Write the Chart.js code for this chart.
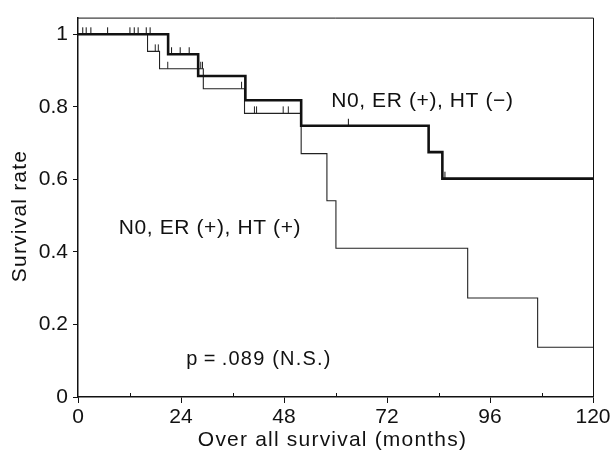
<!DOCTYPE html>
<html>
<head>
<meta charset="utf-8">
<script src="https://cdn.jsdelivr.net/npm/chart.js@4.4.1/dist/chart.umd.min.js"></script>
<style>
html,body{margin:0;padding:0;background:#fff;}
#wrap{width:614px;height:455px;}
</style>
</head>
<body>
<div id="wrap"><canvas id="c" width="614" height="455"></canvas></div>
<script>
// ---- data ----
const xTicks = [0, 24, 48, 72, 96, 120];
const xMinorTicks = [12, 36, 60, 84, 108];
const yTicks = [0, 0.2, 0.4, 0.6, 0.8, 1];

// N0, ER(+), HT(-)  (thick line)
const htNegTimes = [0, 21, 28, 39, 52, 81.7, 84.9, 120];
const htNegSurv  = [1, 0.945, 0.885, 0.818, 0.748, 0.675, 0.602, 0.602];
const htNegCensorTimes = [1.1, 1.9, 3.0, 6.9, 12.1, 13.1, 14.0, 15.9, 16.8, 21.8, 23.8, 25.9, 63.0, 85.5];
const htNegCensorSurv  = [1, 1, 1, 1, 1, 1, 1, 1, 1, 0.945, 0.945, 0.945, 0.748, 0.602];

// N0, ER(+), HT(+)  (thin line)
const htPosTimes = [0, 16.2, 19, 29.2, 38.8, 52, 58, 60.1, 90.8, 107.1, 120];
const htPosSurv  = [1, 0.953, 0.905, 0.85, 0.782, 0.671, 0.541, 0.41, 0.273, 0.137, 0.137];
const htPosCensorTimes = [18.0, 18.7, 20.9, 28.6, 29.0, 38.1, 41.1, 41.6, 47.8, 49.0];
const htPosCensorSurv  = [0.953, 0.953, 0.905, 0.905, 0.905, 0.85, 0.782, 0.782, 0.782, 0.782];

const labelNeg = 'N0, ER (+), HT (\u2212)';
const labelPos = 'N0, ER (+), HT (+)';
const pLabel = 'p\u2009=\u2009.089 (N.S.)';
const xTitle = 'Over all survival (months)';
const yTitle = 'Survival rate';

// ---- helpers ----
const toPts = (xs, ys) => xs.map((x, i) => ({x: x, y: ys[i]}));
function censorMark(color) {
  const c = document.createElement('canvas');
  c.width = 3; c.height = 16;
  const g = c.getContext('2d');
  g.strokeStyle = color; g.lineWidth = 1;
  g.beginPath(); g.moveTo(1.5, 1); g.lineTo(1.5, 8); g.stroke();
  return c;
}
const FONT = '"Liberation Sans", Arial, Helvetica, sans-serif';
const INK = '#111';

const decor = {
  id: 'decor',
  afterDatasetsDraw(chart) {
    const ctx = chart.ctx, a = chart.chartArea;
    const xs = chart.scales.x, ys = chart.scales.y;
    ctx.save();
    // frame
    ctx.strokeStyle = INK; ctx.lineWidth = 1;
    ctx.beginPath();
    ctx.moveTo(a.left, a.top + 0.5); ctx.lineTo(a.right + 0.5, a.top + 0.5);
    ctx.lineTo(a.right + 0.5, a.bottom);
    ctx.stroke();
    // minor x ticks (inward)
    ctx.beginPath();
    xMinorTicks.forEach(v => {
      const px = Math.round(xs.getPixelForValue(v)) + 0.5;
      ctx.moveTo(px, a.bottom); ctx.lineTo(px, a.bottom - 4);
    });
    ctx.stroke();
    // annotations
    ctx.fillStyle = INK;
    ctx.font = '21px ' + FONT;
    ctx.letterSpacing = '0.6px';
    ctx.textBaseline = 'alphabetic';
    ctx.textAlign = 'left';
    ctx.fillText(labelNeg, xs.getPixelForValue(59), ys.getPixelForValue(0.80));
    ctx.fillText(labelPos, xs.getPixelForValue(9.5), ys.getPixelForValue(0.45));
    ctx.font = '20px ' + FONT;
    ctx.letterSpacing = '1.2px';
    ctx.fillText(pLabel, xs.getPixelForValue(25.2), ys.getPixelForValue(0.087));
    // axis titles
    ctx.textAlign = 'center';
    ctx.textBaseline = 'middle';
    ctx.font = '21px ' + FONT;
    ctx.letterSpacing = '1.2px';
    ctx.fillText(xTitle, (a.left + a.right) / 2 - 3, 440);
    ctx.save();
    ctx.translate(20, 216);
    ctx.rotate(-Math.PI / 2);
    ctx.fillText(yTitle, 0, 0);
    ctx.restore();
    ctx.letterSpacing = '0px';
    ctx.restore();
  }
};

new Chart(document.getElementById('c'), {
  type: 'scatter',
  data: {
    datasets: [
      { data: toPts(htNegTimes, htNegSurv), showLine: true, stepped: 'before',
        borderColor: INK, borderWidth: 2.6, pointRadius: 0, fill: false },
      { data: toPts(htPosTimes, htPosSurv), showLine: true, stepped: 'before',
        borderColor: '#222', borderWidth: 1.1, pointRadius: 0, fill: false },
      { data: toPts(htNegCensorTimes, htNegCensorSurv), showLine: false,
        pointStyle: censorMark('#111'), pointRadius: 5 },
      { data: toPts(htPosCensorTimes, htPosCensorSurv), showLine: false,
        pointStyle: censorMark('#222'), pointRadius: 5 }
    ]
  },
  options: {
    responsive: false,
    animation: false,
    devicePixelRatio: 1,
    layout: { padding: { top: 13, right: 21, left: 0, bottom: 0 } },
    plugins: { legend: { display: false }, tooltip: { enabled: false } },
    scales: {
      x: {
        type: 'linear', min: 0, max: 120,
        afterFit: s => { s.height = 58; },
        afterBuildTicks: s => { s.ticks = xTicks.map(v => ({value: v})); },
        ticks: { font: { family: FONT, size: 21 }, color: INK, padding: 2, maxRotation: 0, autoSkip: false },
        grid: { drawOnChartArea: false, drawTicks: true, tickLength: 6, color: INK, lineWidth: 1 },
        border: { color: INK, width: 1.5 }
      },
      y: {
        type: 'linear', min: 0, max: 1.046,
        afterFit: s => { s.width = 78; },
        afterBuildTicks: s => { s.ticks = yTicks.map(v => ({value: v})); },
        ticks: { font: { family: FONT, size: 21 }, color: INK, padding: 5,
          callback: v => (v === 0 || v === 1) ? String(v) : v.toFixed(1) },
        grid: { drawOnChartArea: false, drawTicks: true, tickLength: 5, color: INK, lineWidth: 1 },
        border: { color: INK, width: 1.5 }
      }
    }
  },
  plugins: [decor]
});
</script>
</body>
</html>
